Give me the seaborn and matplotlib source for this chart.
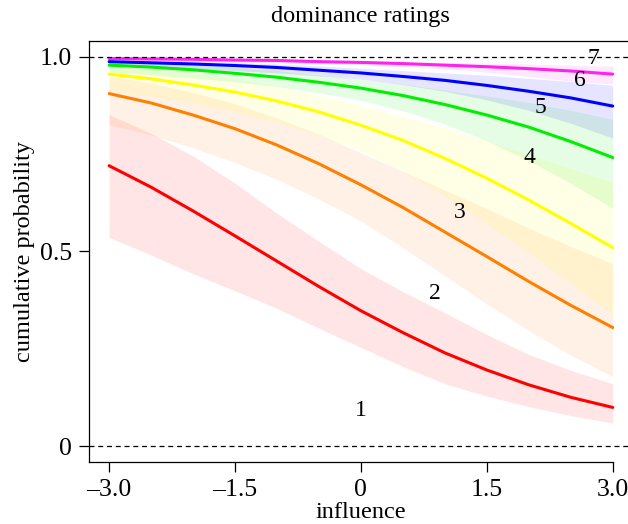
import numpy as np
import pandas as pd
import seaborn as sns
import matplotlib.pyplot as plt

x = [-3.0, -2.5, -2.0, -1.5, -1.0, -0.5, 0.0, 0.5, 1.0, 1.5, 2.0, 2.5, 3.0]

# cumulative probability P(rating <= k), posterior mean curves
p1 = [0.720, 0.665, 0.604, 0.540, 0.475, 0.410, 0.348, 0.292, 0.240, 0.196, 0.158, 0.126, 0.100]
p2 = [0.905, 0.881, 0.850, 0.815, 0.773, 0.725, 0.671, 0.613, 0.550, 0.487, 0.423, 0.362, 0.305]
p3 = [0.955, 0.943, 0.927, 0.909, 0.886, 0.858, 0.824, 0.785, 0.739, 0.688, 0.632, 0.572, 0.510]
p4 = [0.978, 0.973, 0.966, 0.957, 0.947, 0.934, 0.919, 0.900, 0.877, 0.850, 0.819, 0.782, 0.741]
p5 = [0.987, 0.984, 0.981, 0.977, 0.972, 0.965, 0.958, 0.949, 0.939, 0.926, 0.911, 0.894, 0.873]
p6 = [0.995, 0.994, 0.993, 0.991, 0.990, 0.987, 0.985, 0.982, 0.978, 0.974, 0.969, 0.963, 0.955]

# spread of the posterior sample curves (lower / upper edge)
lo1 = [0.536, 0.491, 0.443, 0.399, 0.354, 0.303, 0.254, 0.205, 0.161, 0.129, 0.102, 0.079, 0.060]
hi1 = [0.851, 0.803, 0.745, 0.675, 0.598, 0.526, 0.456, 0.397, 0.343, 0.287, 0.236, 0.195, 0.161]
lo2 = [0.825, 0.799, 0.766, 0.728, 0.685, 0.634, 0.578, 0.510, 0.438, 0.365, 0.297, 0.234, 0.179]
hi2 = [0.950, 0.932, 0.908, 0.879, 0.842, 0.801, 0.753, 0.706, 0.657, 0.610, 0.560, 0.513, 0.469]
lo3 = [0.913, 0.898, 0.881, 0.858, 0.832, 0.798, 0.759, 0.706, 0.644, 0.572, 0.498, 0.418, 0.341]
hi3 = [0.977, 0.968, 0.957, 0.943, 0.924, 0.902, 0.875, 0.847, 0.817, 0.784, 0.749, 0.713, 0.677]
lo4 = [0.961, 0.953, 0.945, 0.935, 0.923, 0.907, 0.888, 0.861, 0.827, 0.784, 0.733, 0.675, 0.611]
hi4 = [0.988, 0.984, 0.979, 0.972, 0.964, 0.953, 0.941, 0.929, 0.914, 0.899, 0.882, 0.862, 0.839]
lo5 = [0.977, 0.973, 0.969, 0.964, 0.958, 0.951, 0.942, 0.928, 0.911, 0.889, 0.862, 0.829, 0.791]
hi5 = [0.993, 0.991, 0.988, 0.985, 0.981, 0.976, 0.970, 0.964, 0.958, 0.952, 0.944, 0.936, 0.926]
lo6 = [0.991, 0.990, 0.988, 0.986, 0.984, 0.982, 0.979, 0.974, 0.968, 0.960, 0.949, 0.937, 0.930]
hi6 = [0.997, 0.996, 0.996, 0.994, 0.993, 0.991, 0.989, 0.987, 0.985, 0.983, 0.981, 0.978, 0.975]

colors = ["#FF0000", "#FF7F00", "#FFFF00", "#00EE00", "#0000FF", "#FF22EE"]

# rating labels and where they sit
rating_labels = ["1", "2", "3", "4", "5", "6", "7"]
label_x = [0.0, 0.88, 1.18, 2.01, 2.14, 2.61, 2.77]
label_y = [0.092, 0.392, 0.600, 0.741, 0.869, 0.938, 0.995]

xticks = [-3.0, -1.5, 0.0, 1.5, 3.0]
xticklabels = ["\u20133.0", "\u20131.5", "0", "1.5", "3.0"]
yticks = [0.0, 0.5, 1.0]
yticklabels = ["0", "0.5", "1.0"]

curves = [p1, p2, p3, p4, p5, p6]
bands = [(lo1, hi1), (lo2, hi2), (lo3, hi3), (lo4, hi4), (lo5, hi5), (lo6, hi6)]

df = pd.concat(
    [pd.DataFrame({"influence": x, "prob": c, "k": str(i + 1)}) for i, c in enumerate(curves)],
    ignore_index=True,
)

sns.set_style("ticks")
plt.rcParams["font.family"] = ["Liberation Serif", "DejaVu Serif"]
plt.rcParams["text.color"] = "black"
plt.rcParams["axes.labelcolor"] = "black"

fig = plt.figure(figsize=(6.28, 5.24), dpi=100)
ax = fig.add_axes([0.1417, 0.1183, 0.866, 0.8035])

# faint posterior spread
for (lo, hi), col in zip(bands, colors):
    ax.fill_between(x, lo, hi, color=col, alpha=0.1, linewidth=0)

sns.lineplot(
    data=df, x="influence", y="prob", hue="k", palette=colors,
    linewidth=2.2, legend=False, ax=ax,
)

ax.axhline(0, color="black", linestyle=(0, (4, 3)), linewidth=0.9)
ax.axhline(1, color="black", linestyle=(0, (4, 3)), linewidth=0.9)

for lab, lx, ly in zip(rating_labels, label_x, label_y):
    ax.text(lx, ly, lab, fontsize=17, ha="center", va="center", color="black")

ax.set_xlim(-3.24, 3.24)
ax.set_ylim(-0.04, 1.04)
ax.set_xticks(xticks)
ax.set_xticklabels(xticklabels)
ax.set_yticks(yticks)
ax.set_yticklabels(yticklabels)
ax.tick_params(direction="out", length=7, width=0.9, labelsize=18.5, colors="black", pad=5)
ax.spines["bottom"].set_bounds(-3.24, 3.0)
for s in ax.spines.values():
    s.set_linewidth(0.9)
    s.set_color("black")

ax.set_xlabel("influence", fontsize=17.5, labelpad=1, color="black")
ax.set_ylabel("cumulative probability", fontsize=17.5, labelpad=4, color="black")
ax.set_title("dominance ratings", fontsize=17.5, pad=14, color="black")

fig.savefig("out.png", dpi=100)
